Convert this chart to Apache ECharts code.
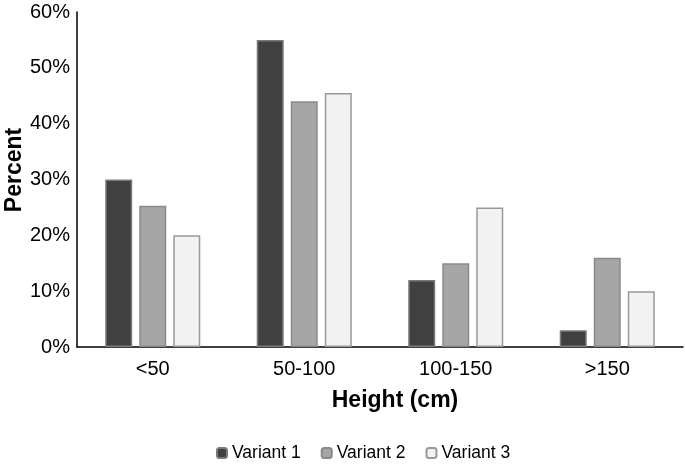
<!DOCTYPE html>
<html><head><meta charset="utf-8">
<script src="https://cdn.jsdelivr.net/npm/echarts@6/dist/echarts.min.js"></script>
<style>html,body{margin:0;padding:0;background:#fff}#c{width:685px;height:464px}</style>
</head><body><div id="c"></div>
<script>
var categories = ['<50', '50-100', '100-150', '>150'];
var variant1 = [30, 55, 12, 3];
var variant2 = [25.3, 44, 15, 16];
var variant3 = [20, 45.5, 25, 10];
var yTicks = [0, 10, 20, 30, 40, 50, 60];

var chart = echarts.init(document.getElementById('c'));
var font = 'Liberation Sans, Arial, sans-serif';
function ser(name, data, color, border) {
  return {name: name, type: 'bar', data: data, barWidth: 27, barGap: '26%',
    itemStyle: {color: color, borderColor: border, borderWidth: 1.5}};
}
chart.setOption({
  animation: false,
  textStyle: {fontFamily: font},
  grid: {left: 77, top: 12, right: 2, bottom: 117, containLabel: false, outerBoundsMode: 'none'},
  legend: {top: 439, left: 211, itemWidth: 10, itemHeight: 10, itemGap: 20,
    textStyle: {fontSize: 17.5, color: '#000', fontFamily: font},
    data: ['Variant 1', 'Variant 2', 'Variant 3']},
  xAxis: {type: 'category', data: categories,
    axisLine: {lineStyle: {color: '#000', width: 1.5}}, axisTick: {show: false},
    axisLabel: {fontSize: 20, color: '#000', margin: 12},
    name: 'Height (cm)', nameLocation: 'middle', nameGap: 42, nameMoveOverlap: false,
    nameTextStyle: {fontSize: 23, fontWeight: 'bold', color: '#000', padding: [0, 0, 0, 30]}},
  yAxis: {type: 'value', min: yTicks[0], max: yTicks[yTicks.length - 1], interval: 10,
    axisLine: {show: true, lineStyle: {color: '#000', width: 1.5}}, axisTick: {show: false},
    splitLine: {show: false},
    axisLabel: {fontSize: 20, color: '#000', margin: 7, formatter: '{value}%'},
    name: 'Percent', nameLocation: 'middle', nameGap: 51, nameMoveOverlap: false,
    nameTextStyle: {fontSize: 23, fontWeight: 'bold', color: '#000', padding: [0, 0, 0, 19]}},
  series: [
    ser('Variant 1', variant1, '#404040', '#7a7a7a'),
    ser('Variant 2', variant2, '#a6a6a6', '#8a8a8a'),
    ser('Variant 3', variant3, '#f2f2f2', '#999999')
  ]
});
</script></body></html>
